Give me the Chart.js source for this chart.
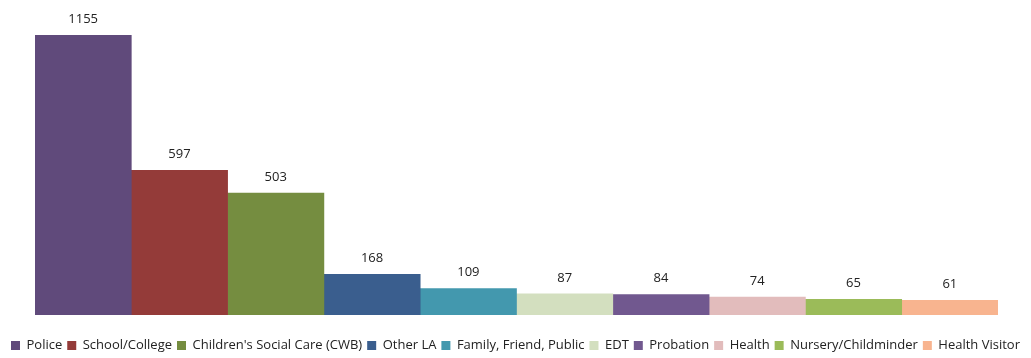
<!DOCTYPE html>
<html>
<head>
<meta charset="utf-8">
<script src="https://cdn.jsdelivr.net/npm/chart.js@4"></script>
<style>
  html, body { margin: 0; padding: 0; background: #fff; }
  #wrap { width: 1031px; height: 358px; }
</style>
</head>
<body>
<div id="wrap"><canvas id="chart"></canvas></div>
<script>
// Referrals by source
const sources = ['Police', 'School/College', "Children's Social Care (CWB)", 'Other LA',
  'Family, Friend, Public', 'EDT', 'Probation', 'Health', 'Nursery/Childminder', 'Health Visitor'];
const counts = [1155, 597, 503, 168, 109, 87, 84, 74, 65, 61];
const colours = ['#604A7B', '#943B39', '#758D40', '#3A5E8E', '#4398AE',
  '#D3DFBF', '#71588F', '#E2BCBC', '#9BBB59', '#F8B48F'];

// value labels above each bar
const valueLabels = {
  id: 'valueLabels',
  afterDatasetsDraw(chart) {
    const ctx = chart.ctx;
    ctx.save();
    ctx.font = '13px "Open Sans", sans-serif';
    ctx.fillStyle = '#222';
    ctx.textAlign = 'center';
    ctx.textBaseline = 'middle';
    chart.data.datasets.forEach((ds, i) => {
      const bar = chart.getDatasetMeta(i).data[0];
      ctx.fillText(ds.data[0], bar.x, bar.y - 16);
    });
    ctx.restore();
  }
};

// invisible axis used only as spacing
function spacer(size) {
  return {
    grid: { display: false },
    border: { display: false },
    ticks: { display: false },
    afterFit(scale) {
      if (scale.isHorizontal()) scale.height = size;
      else scale.width = size;
    }
  };
}

new Chart(document.getElementById('chart'), {
  type: 'bar',
  data: {
    labels: [''],
    datasets: sources.map((name, i) => ({
      label: name,
      data: [counts[i]],
      backgroundColor: colours[i],
      borderWidth: 0,
      categoryPercentage: 1,
      barPercentage: 1
    }))
  },
  options: {
    responsive: true,
    maintainAspectRatio: false,
    animation: false,
    layout: { padding: { top: 35, left: 0, right: 0, bottom: -4 } },
    scales: {
      x: spacer(19),
      y: { ...spacer(35), min: 0, max: 1155 },
      yRight: { ...spacer(33), position: 'right', min: 0, max: 1155 }
    },
    plugins: {
      tooltip: { enabled: false },
      legend: {
        position: 'bottom',
        labels: {
          boxWidth: 9,
          boxHeight: 9,
          padding: 5,
          color: '#222',
          font: { family: '"Open Sans", sans-serif', size: 13 }
        }
      }
    }
  },
  plugins: [valueLabels]
});
</script>
</body>
</html>
